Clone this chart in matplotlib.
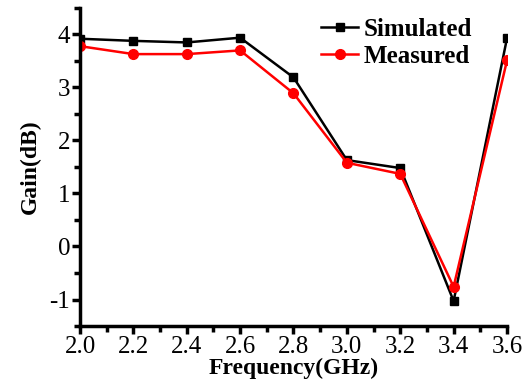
import numpy as np
import matplotlib.pyplot as plt
from matplotlib.ticker import MultipleLocator

freq = [2.0, 2.2, 2.4, 2.6, 2.8, 3.0, 3.2, 3.4, 3.6]
simulated = [3.92, 3.88, 3.85, 3.94, 3.19, 1.63, 1.48, -1.03, 3.93]
measured = [3.78, 3.63, 3.63, 3.70, 2.89, 1.58, 1.37, -0.76, 3.51]

plt.rcParams['font.family'] = ['Liberation Serif', 'DejaVu Serif']
plt.rcParams['axes.unicode_minus'] = False

fig = plt.figure(figsize=(5.23, 3.85), dpi=100)
ax = fig.add_axes([80/523, 1-326/385, 427/523, 318/385])

ax.plot(freq, simulated, color='black', marker='s', markersize=6, lw=1.8, label='Simulated')
ax.plot(freq, measured, color='red', marker='o', markersize=7, lw=1.8, label='Measured')

ax.set_xlim(2.0, 3.6)
ax.set_ylim(-1.5, 4.5)
ax.xaxis.set_major_locator(MultipleLocator(0.2))
ax.xaxis.set_minor_locator(MultipleLocator(0.1))
ax.yaxis.set_minor_locator(MultipleLocator(0.5))
ax.set_yticks([-1, 0, 1, 2, 3, 4])
ax.spines['top'].set_visible(False)
ax.spines['right'].set_visible(False)
ax.spines['left'].set_linewidth(2.5)
ax.spines['bottom'].set_linewidth(2.5)
ax.tick_params(which='major', direction='out', length=6, width=2.5, labelsize=18, pad=1)
ax.tick_params(which='minor', direction='out', length=4, width=2.5)

ax.set_xlabel('Frequency(GHz)', fontsize=17, fontweight='bold', labelpad=0)
ax.set_ylabel('Gain(dB)', fontsize=17, fontweight='bold', labelpad=6)

ax.legend(loc='upper right', bbox_to_anchor=(0.97, 1.04), frameon=False,
          prop={'size': 18, 'weight': 'bold'}, handlelength=1.5, handletextpad=0.2,
          labelspacing=0.15)

plt.savefig('out.png', dpi=100)
